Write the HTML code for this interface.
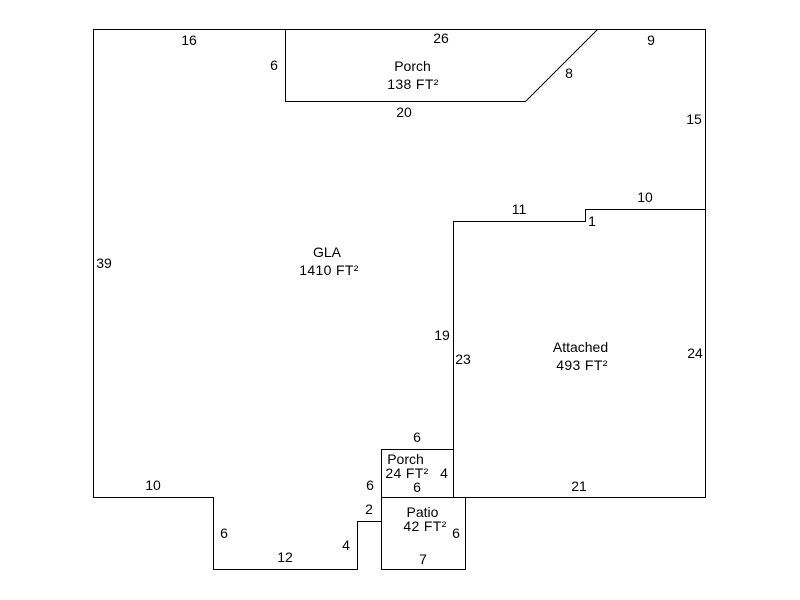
<!DOCTYPE html>
<html>
<head>
<meta charset="utf-8">
<style>
html,body{margin:0;padding:0;background:#fff;width:800px;height:600px;overflow:hidden}
svg{display:block}
text{font-family:"Liberation Sans",Arial,sans-serif;font-size:14px;fill:#000;text-anchor:middle}
text.a{letter-spacing:.35px}
path{fill:none;stroke:#000;stroke-width:1;shape-rendering:crispEdges}
path.d{shape-rendering:auto}
</style>
</head>
<body>
<svg width="800" height="600" viewBox="0 0 800 600" xmlns="http://www.w3.org/2000/svg">
<path d="M93.5 29.5H705.5V497.5H465.5V569.5H381.5V521.5H357.5V569.5H213.5V497.5H93.5Z"/>
<path d="M285.5 29.5V101.5H525.5"/>
<path class="d" d="M525.5 101.5L597.5 29.5"/>
<path d="M453.5 497.5V221.5H585.5V209.5H705.5"/>
<path d="M381.5 521.5V449.5H453.5"/>
<path d="M381.5 497.5H465.5"/>

<text x="189" y="45">16</text>
<text x="441" y="43">26</text>
<text x="651" y="45">9</text>
<text x="274" y="70">6</text>
<text x="569" y="78">8</text>
<text x="404" y="117">20</text>
<text x="694" y="124">15</text>
<text x="645" y="202">10</text>
<text x="519" y="214">11</text>
<text x="592" y="226">1</text>
<text x="104" y="268">39</text>
<text x="442" y="340">19</text>
<text x="463" y="364">23</text>
<text x="695" y="358">24</text>
<text x="417" y="442">6</text>
<text x="444" y="478">4</text>
<text x="417" y="492">6</text>
<text x="370" y="490">6</text>
<text x="153" y="490">10</text>
<text x="579" y="491">21</text>
<text x="369" y="514">2</text>
<text x="456" y="538">6</text>
<text x="224" y="538">6</text>
<text x="346" y="550">4</text>
<text x="285" y="562">12</text>
<text x="423" y="564">7</text>

<text x="412.5" y="71">Porch</text>
<text class="a" x="413" y="89">138 FT²</text>
<text x="327" y="257">GLA</text>
<text class="a" x="329" y="275">1410 FT²</text>
<text x="580.5" y="352">Attached</text>
<text class="a" x="582" y="370">493 FT²</text>
<text x="405.5" y="464">Porch</text>
<text class="a" x="407" y="478">24 FT²</text>
<text x="422.5" y="517">Patio</text>
<text class="a" x="425" y="531">42 FT²</text>
</svg>
</body>
</html>
